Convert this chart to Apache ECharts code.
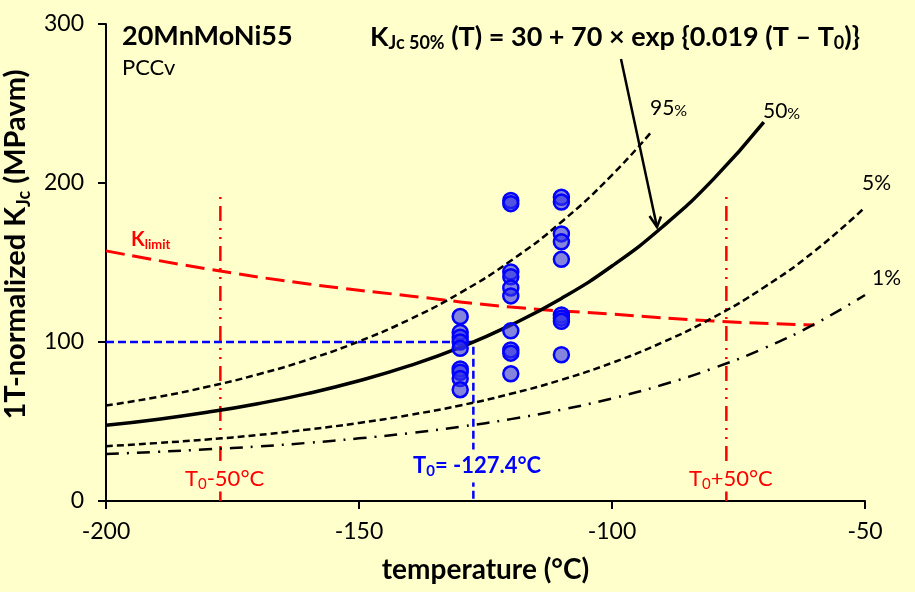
<!DOCTYPE html>
<html><head><meta charset="utf-8">
<script src="https://cdn.jsdelivr.net/npm/echarts@6/dist/echarts.min.js"></script>
<style>html,body{margin:0;padding:0;background:#FFFFCC}#c{width:915px;height:592px}</style>
</head><body><div id="c"></div>
<script>
// ---- data ----
const xTicks = [-200, -150, -100, -50];
const yTicks = [0, 100, 200, 300];

const temps50 = [-200,-190,-180,-170,-160,-150,-140,-130,-120,-110,-100,-90,-80,-70];
const k50     = [47.6,51.3,55.8,61.2,67.7,75.6,85.1,96.6,110.6,127.4,147.8,172.5,202.3,238.3];

const temps95 = [-200,-190,-180,-170,-160,-150,-140,-130,-120,-110,-100,-92];
const k95     = [60.0,65.3,71.8,79.6,89.0,100.4,114.2,130.9,151.1,175.5,205.0,233.0];

const tempsLow = [-200,-190,-180,-170,-160,-150,-140,-130,-120,-110,-100,-90,-80,-70,-60,-50];
const k5       = [34.5,36.4,38.7,41.5,45.0,49.1,54.1,60.1,67.4,76.2,86.9,99.8,115.4,134.3,157.1,184.7];
const k1       = [29.6,30.9,32.5,34.3,36.6,39.4,42.7,46.7,51.5,57.4,64.5,73.1,83.5,96.0,111.2,129.6];

const tempsLimit = [-200,-180,-160,-140,-120,-100,-80,-60];
const kLimit     = [157.3,146.0,136.5,129.0,122.0,117.5,113.2,110.7];

const T0 = -127.4;
const t0Offsets = [-50, 50];
const verticalTop = 195;

const colTemps = [-130, -120, -110];
const pts130 = [116, 106, 103, 100, 96, 83, 81, 77, 70];
const pts120 = [189, 187, 144, 141, 134, 129, 107, 95, 93, 80];
const pts110 = [191, 188, 168, 163, 152, 117, 115, 113, 92];

// ---- build ----
const zip = (xs, ys) => xs.map((x, i) => [x, ys[i]]);
const scatterData = [];
[pts130, pts120, pts110].forEach((col, i) => col.forEach(v => scatterData.push([colTemps[i], v])));

const FONT = 'Lato, "Open Sans", sans-serif';
const BG = '#FFFFCC';
const chart = echarts.init(document.getElementById('c'), null, {renderer: 'canvas'});

const redVert = t0Offsets.map(o => ({
  type: 'line', data: [[T0 + o, 0], [T0 + o, verticalTop]], showSymbol: false, silent: true,
  lineStyle: {color: '#FF0000', width: 2.5, type: [15, 7, 2, 7, 2, 7]}, z: 2
}));

const option = {
  backgroundColor: BG,
  animation: false,
  grid: {left: 106, right: 50, top: 24, bottom: 91, containLabel: false, outerBoundsMode: 'none'},
  xAxis: {
    type: 'value', min: xTicks[0], max: xTicks[xTicks.length - 1], interval: 50,
    axisLine: {onZero: false, lineStyle: {color: '#000', width: 2}},
    axisTick: {length: 8, lineStyle: {color: '#000', width: 2}},
    axisLabel: {color: '#000', fontSize: 23, fontFamily: FONT, margin: 19},
    splitLine: {show: false},
    name: 'temperature (°C)', nameLocation: 'middle', nameGap: 55,
    nameTextStyle: {color: '#000', fontSize: 28, fontWeight: 'bold', fontFamily: FONT}
  },
  yAxis: {
    type: 'value', min: yTicks[0], max: yTicks[yTicks.length - 1], interval: 100,
    axisLine: {show: true, onZero: false, lineStyle: {color: '#000', width: 2}},
    axisTick: {show: true, length: 8, lineStyle: {color: '#000', width: 2}},
    axisLabel: {color: '#000', fontSize: 23, fontFamily: FONT, margin: 22},
    splitLine: {show: false},
    name: '{m|1T-normalized K}{s|Jc}{m| (MPavm)}', nameLocation: 'middle', nameGap: 46,
    nameTextStyle: {
      color: '#000', fontSize: 29, fontWeight: 'bold', fontFamily: FONT,
      padding: [0, 0, 0, 36],
      rich: {
        m: {fontSize: 29, fontWeight: 'bold', fontFamily: FONT, color: '#000', lineHeight: 34},
        s: {fontSize: 18, fontWeight: 'bold', fontFamily: FONT, color: '#000', verticalAlign: 'bottom', lineHeight: 16}
      }
    }
  },
  series: [
    {type: 'line', data: zip(tempsLimit, kLimit), smooth: true, showSymbol: false, silent: true,
     lineStyle: {color: '#FF0000', width: 3, type: [19, 8]}, z: 2},
    ...redVert,
    {type: 'line', data: [[xTicks[0], 100], [T0, 100], [T0, 0]], showSymbol: false, silent: true,
     lineStyle: {color: '#0000FF', width: 2.5, type: [8, 4]}, z: 2},
    {type: 'line', data: zip(temps95, k95), smooth: true, showSymbol: false, silent: true,
     lineStyle: {color: '#000', width: 2.5, type: [7, 4]}, z: 3},
    {type: 'line', data: zip(temps50, k50), smooth: true, showSymbol: false, silent: true,
     lineStyle: {color: '#000', width: 3.5, type: 'solid'}, z: 3},
    {type: 'line', data: zip(tempsLow, k5), smooth: true, showSymbol: false, silent: true,
     lineStyle: {color: '#000', width: 2.5, type: [7, 4]}, z: 3},
    {type: 'line', data: zip(tempsLow, k1), smooth: true, showSymbol: false, silent: true,
     lineStyle: {color: '#000', width: 2.5, type: [13, 8, 2, 8]}, z: 3},
    {type: 'scatter', data: scatterData, symbol: 'circle', symbolSize: 15, silent: true,
     itemStyle: {color: 'rgba(50,50,230,0.6)', borderColor: '#0000FF', borderWidth: 2.5, opacity: 1}, z: 5}
  ],
  graphic: [
    {type: 'text', x: 122, y: 36, style: {text: '20MnMoNi55', fill: '#000', font: 'bold 27px ' + FONT, verticalAlign: 'middle'}},
    {type: 'text', x: 122, y: 68, style: {text: 'PCCv', fill: '#000', font: '22px ' + FONT, verticalAlign: 'middle'}},
    {type: 'text', x: 370, y: 37, style: {
      text: '{m|K}{s|Jc 50%}{m| (T) = 30 + 70 × exp {0.019 (T – T}{s|0}{m|)}}',
      verticalAlign: 'middle', fill: '#000', font: 'bold 27px ' + FONT,
      rich: {
        m: {fontSize: 27, fontWeight: 'bold', fontFamily: FONT, fill: '#000', lineHeight: 30},
        s: {fontSize: 18, fontWeight: 'bold', fontFamily: FONT, fill: '#000', verticalAlign: 'bottom', lineHeight: 15}
      }}},
    {type: 'polyline', shape: {points: [[621, 59], [657, 227]]}, style: {stroke: '#000', lineWidth: 2.5, fill: null}},
    {type: 'polyline', shape: {points: [[649.5, 216], [657, 227], [661, 216.5]]}, style: {stroke: '#000', lineWidth: 2.5, fill: null}},
    {type: 'text', x: 650, y: 108, style: {text: '{a|95}{b|%}', verticalAlign: 'middle',
      rich: {a: {fontSize: 21, fontFamily: FONT, fill: '#000'}, b: {fontSize: 16, fontFamily: FONT, fill: '#000', verticalAlign: 'bottom'}}}},
    {type: 'text', x: 763, y: 111, style: {text: '{a|50}{b|%}', verticalAlign: 'middle',
      rich: {a: {fontSize: 21, fontFamily: FONT, fill: '#000'}, b: {fontSize: 16, fontFamily: FONT, fill: '#000', verticalAlign: 'bottom'}}}},
    {type: 'text', x: 862, y: 183, style: {text: '5%', fill: '#000', font: '21px ' + FONT, verticalAlign: 'middle'}},
    {type: 'text', x: 872, y: 278, style: {text: '1%', fill: '#000', font: '21px ' + FONT, verticalAlign: 'middle'}},
    {type: 'text', x: 131, y: 240, style: {text: '{k|K}{s|limit}', verticalAlign: 'middle',
      rich: {k: {fontSize: 20, fontWeight: 'bold', fontFamily: FONT, fill: '#FF0000', lineHeight: 22},
             s: {fontSize: 13, fontWeight: 'bold', fontFamily: FONT, fill: '#FF0000', verticalAlign: 'bottom', lineHeight: 11}}}},
    {type: 'text', x: 184, y: 479, z: 10, style: {text: '{m|T}{s|0}{m|-50°C}', verticalAlign: 'middle',
      backgroundColor: BG, padding: [0, 1, 0, 1],
      rich: {m: {fontSize: 22, fontFamily: FONT, fill: '#FF0000', lineHeight: 25},
             s: {fontSize: 15, fontFamily: FONT, fill: '#FF0000', verticalAlign: 'bottom', lineHeight: 12}}}},
    {type: 'text', x: 688, y: 479, z: 10, style: {text: '{m|T}{s|0}{m|+50°C}', verticalAlign: 'middle',
      backgroundColor: BG, padding: [0, 1, 0, 1],
      rich: {m: {fontSize: 22, fontFamily: FONT, fill: '#FF0000', lineHeight: 25},
             s: {fontSize: 15, fontFamily: FONT, fill: '#FF0000', verticalAlign: 'bottom', lineHeight: 12}}}},
    {type: 'text', x: 412, y: 466, z: 10, style: {text: '{m|T}{s|0}{m|= -127.4°C}', verticalAlign: 'middle',
      backgroundColor: BG, padding: [4, 1, 4, 1],
      rich: {m: {fontSize: 22, fontWeight: 'bold', fontFamily: FONT, fill: '#0000FF', lineHeight: 25},
             s: {fontSize: 15, fontWeight: 'bold', fontFamily: FONT, fill: '#0000FF', verticalAlign: 'bottom', lineHeight: 12}}}}
  ]
};
chart.setOption(option);
</script>
</body></html>
